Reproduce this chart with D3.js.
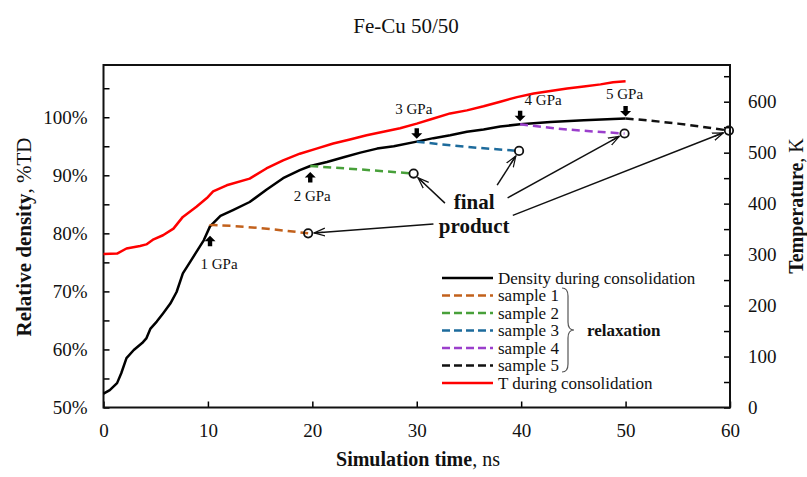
<!DOCTYPE html>
<html>
<head>
<meta charset="utf-8">
<script src="https://cdn.jsdelivr.net/npm/d3@7"></script>
<style>
  body { margin: 0; background: #fff; }
  svg, svg text { font-family: "Liberation Serif", "Times New Roman", serif; }
</style>
</head>
<body>
<div id="chart"></div>
<script>
// Fe-Cu 50/50 consolidation chart

// DATA
// Density during consolidation (ns, %TD)
var densTime = [0, 0.6, 1.3, 1.7, 2.2, 2.9, 3.7, 4.1, 4.5, 5.1, 5.7, 6.4, 7.0, 7.6, 8.3, 8.9, 9.6, 10.2, 11.2, 12.4, 14.0, 15.6, 17.2, 18.8, 19.8, 21.4, 23.0, 24.6, 26.2, 27.8, 30.0, 31.6, 33.2, 34.8, 36.4, 38.0, 39.9, 42.8, 46.0, 48.8, 50.0];
var densValue = [52.4, 53.0, 54.2, 55.9, 58.5, 59.9, 61.1, 61.9, 63.6, 64.8, 66.2, 67.9, 69.9, 73.1, 75.1, 76.8, 78.8, 81.2, 83.0, 84.0, 85.4, 87.5, 89.5, 90.9, 91.6, 92.3, 93.1, 93.9, 94.6, 95.0, 95.8, 96.4, 96.9, 97.5, 97.9, 98.4, 98.8, 99.2, 99.5, 99.7, 99.8];
// Temperature during consolidation (ns, K)
var tempTime = [0, 1.3, 2.2, 3.5, 4.1, 4.8, 5.7, 6.7, 7.6, 8.9, 9.9, 10.5, 11.8, 14.0, 15.6, 17.2, 18.8, 20.4, 22.0, 23.6, 25.2, 26.8, 28.4, 30.0, 31.6, 33.2, 34.8, 36.4, 38.0, 39.6, 41.2, 42.8, 44.4, 46.0, 47.6, 48.8, 50.0];
var tempValue = [301, 302, 312, 317, 320, 330, 338, 351, 374, 394, 411, 424, 436, 449, 469, 485, 498, 508, 518, 526, 534, 541, 548, 557, 567, 577, 583, 591, 600, 609, 616, 621, 626, 630, 634, 638, 640];
// Relaxation samples
var sample1Time = [10.2, 11.0, 15.0, 19.6];
var sample1Value = [81.3, 81.4, 80.9, 80.0];
var sample2Time = [19.8, 24.6, 29.7];
var sample2Value = [91.6, 91.0, 90.3];
var sample3Time = [30.0, 34.8, 39.8];
var sample3Value = [95.8, 94.9, 94.2];
var sample4Time = [39.9, 44.4, 49.9];
var sample4Value = [98.8, 97.9, 97.2];
var sample5Time = [50.0, 55.0, 59.9];
var sample5Value = [99.8, 98.9, 97.7];
// Pressure labels
var pressureLabels = ["1 GPa", "2 GPa", "3 GPa", "4 GPa", "5 GPa"];
// Axis ticks
var xTicks = [0, 10, 20, 30, 40, 50, 60];
var leftTicks = [50, 60, 70, 80, 90, 100];
var rightTicks = [0, 100, 200, 300, 400, 500, 600];

// SETUP
var width = 807, height = 477;
var plotLeft = 103.5, plotRight = 730, plotTop = 65, plotBottom = 407.5;
var serif = "Liberation Serif, Times New Roman, serif";

var svg = d3.select("#chart").append("svg")
    .attr("width", width)
    .attr("height", height)
    .attr("font-family", serif);

var xScale = d3.scaleLinear().domain([0, 60]).range([plotLeft, plotRight]);
var yLeft = d3.scaleLinear().domain([50, 109]).range([plotBottom, plotTop]);
var yRight = d3.scaleLinear().domain([0, 672]).range([plotBottom, plotTop]);

function zip(ts, vs) {
    return ts.map(function(t, i) { return [t, vs[i]]; });
}

var samples = [
    { name: "sample 1", color: "#c2611c", pts: zip(sample1Time, sample1Value) },
    { name: "sample 2", color: "#48a03a", pts: zip(sample2Time, sample2Value) },
    { name: "sample 3", color: "#1d6b9c", pts: zip(sample3Time, sample3Value) },
    { name: "sample 4", color: "#9b3fcc", pts: zip(sample4Time, sample4Value) },
    { name: "sample 5", color: "#111111", pts: zip(sample5Time, sample5Value) }
];

// style axis groups the same way
function styleAxis(g) {
    g.attr("font-family", serif);
    g.select(".domain").remove();
    g.selectAll("line").attr("stroke", "#000").attr("stroke-width", 1.5);
    g.selectAll("text").attr("font-size", 19).attr("fill", "#111");
}

// AXES
// Bottom axis, ticks point inward
svg.append("g")
    .attr("transform", "translate(0," + plotBottom + ")")
    .call(d3.axisBottom(xScale).tickValues(xTicks).tickSizeInner(-6).tickSizeOuter(0).tickPadding(16))
    .call(styleAxis);
// Left axis, ticks every 5%
svg.append("g")
    .attr("transform", "translate(" + plotLeft + ",0)")
    .call(d3.axisLeft(yLeft).tickValues(d3.range(50, 109, 5)).tickSizeInner(-6).tickSizeOuter(0).tickPadding(16)
        .tickFormat(function(d) { return leftTicks.indexOf(d) >= 0 ? d + "%" : ""; }))
    .call(styleAxis);
// Right axis, ticks every 50 K
svg.append("g")
    .attr("transform", "translate(" + plotRight + ",0)")
    .call(d3.axisRight(yRight).tickValues(d3.range(0, 672, 50)).tickSizeInner(-6).tickSizeOuter(0).tickPadding(18)
        .tickFormat(function(d) { return rightTicks.indexOf(d) >= 0 ? d : ""; }))
    .call(styleAxis);

// Plot frame
svg.append("rect")
    .attr("x", plotLeft).attr("y", plotTop)
    .attr("width", plotRight - plotLeft).attr("height", plotBottom - plotTop)
    .attr("fill", "none").attr("stroke", "#111").attr("stroke-width", 2);

// Titles
svg.append("text")
    .attr("x", 406).attr("y", 33)
    .attr("text-anchor", "middle").attr("font-size", 21).attr("fill", "#111")
    .text("Fe-Cu 50/50");

var xTitle = svg.append("text")
    .attr("x", 418).attr("y", 466)
    .attr("text-anchor", "middle").attr("font-size", 20).attr("fill", "#111");
xTitle.append("tspan").attr("font-weight", "bold").text("Simulation time");
xTitle.append("tspan").text(", ns");

var yTitle = svg.append("text")
    .attr("transform", "translate(31,237)rotate(-90)")
    .attr("text-anchor", "middle").attr("font-size", 21).attr("fill", "#111");
yTitle.append("tspan").attr("font-weight", "bold").text("Relative density");
yTitle.append("tspan").text(", %TD");

var rTitle = svg.append("text")
    .attr("transform", "translate(803,206)rotate(-90)")
    .attr("text-anchor", "middle").attr("font-size", 20).attr("fill", "#111");
rTitle.append("tspan").attr("font-weight", "bold").text("Temperature");
rTitle.append("tspan").text(", K");

// CURVES
var densLine = d3.line()
    .x(function(d) { return xScale(d[0]); })
    .y(function(d) { return yLeft(d[1]); });
var tempLine = d3.line()
    .x(function(d) { return xScale(d[0]); })
    .y(function(d) { return yRight(d[1]); });
var smoothLine = d3.line()
    .curve(d3.curveNatural)
    .x(function(d) { return xScale(d[0]); })
    .y(function(d) { return yLeft(d[1]); });

svg.append("path")
    .datum(zip(tempTime, tempValue))
    .attr("d", tempLine)
    .attr("fill", "none").attr("stroke", "#ff0000").attr("stroke-width", 2.5)
    .attr("stroke-linejoin", "round");

svg.append("path")
    .datum(zip(densTime, densValue))
    .attr("d", densLine)
    .attr("fill", "none").attr("stroke", "#000").attr("stroke-width", 2.5)
    .attr("stroke-linejoin", "round");

samples.forEach(function(s) {
    svg.append("path")
        .datum(s.pts)
        .attr("d", smoothLine)
        .attr("fill", "none").attr("stroke", s.color).attr("stroke-width", 2.5)
        .attr("stroke-dasharray", "8,5");
});

// Final product circles
samples.forEach(function(s) {
    var last = s.pts[s.pts.length - 1];
    svg.append("circle")
        .attr("cx", xScale(last[0])).attr("cy", yLeft(last[1])).attr("r", 4.2)
        .attr("fill", "none").attr("stroke", "#111").attr("stroke-width", 1.8);
});

// PRESSURE ARROWS
// block arrow shape pointing up, tip at origin
var blockUp = "M0,0 L5.5,5.5 L2.2,5.5 L2.2,10.5 L-2.2,10.5 L-2.2,5.5 L-5.5,5.5 Z";
var pressureMarks = [
    { dir: "up", dy: 10, lx: 9, ly: 33 },
    { dir: "up", dy: 6, lx: 2, ly: 29 },
    { dir: "down", dy: -3, lx: -3, ly: -25 },
    { dir: "down", dy: -3, lx: 23, ly: -16 },
    { dir: "down", dy: -2, lx: -1, ly: -17 }
];
samples.forEach(function(s, i) {
    var p = s.pts[0];
    var m = pressureMarks[i];
    var px = xScale(p[0]), py = yLeft(p[1]) + m.dy;
    svg.append("path")
        .attr("d", blockUp)
        .attr("transform", "translate(" + px + "," + py + ")" + (m.dir === "down" ? "rotate(180)" : ""))
        .attr("fill", "#000");
    svg.append("text")
        .attr("x", px + m.lx).attr("y", py + m.ly)
        .attr("text-anchor", "middle").attr("font-size", 15).attr("fill", "#111")
        .text(pressureLabels[i]);
});

// FINAL PRODUCT ANNOTATION
svg.append("defs").append("marker")
    .attr("id", "openArrow")
    .attr("viewBox", "0 0 12 10")
    .attr("refX", 11).attr("refY", 5)
    .attr("markerWidth", 12).attr("markerHeight", 10)
    .attr("markerUnits", "userSpaceOnUse")
    .attr("orient", "auto")
    .append("path")
    .attr("d", "M0,1 L11,5 L0,9 M11,5 L2,5")
    .attr("fill", "none").attr("stroke", "#111").attr("stroke-width", 1.2);

// arrow tails in data units (ns, %TD)
var arrowTails = [[31.6, 81.6], [32.7, 85.2], [37.7, 88.3], [38.7, 86.1], [39.2, 83.1]];
samples.forEach(function(s, i) {
    var last = s.pts[s.pts.length - 1];
    var x1 = xScale(arrowTails[i][0]), y1 = yLeft(arrowTails[i][1]);
    var x2 = xScale(last[0]), y2 = yLeft(last[1]);
    var len = Math.sqrt((x2 - x1) * (x2 - x1) + (y2 - y1) * (y2 - y1));
    var k = (len - 6) / len;
    svg.append("line")
        .attr("x1", x1).attr("y1", y1)
        .attr("x2", x1 + (x2 - x1) * k).attr("y2", y1 + (y2 - y1) * k)
        .attr("stroke", "#111").attr("stroke-width", 1.5)
        .attr("marker-end", "url(#openArrow)");
});

svg.append("text")
    .attr("x", xScale(35.5)).attr("y", yLeft(84.2))
    .attr("text-anchor", "middle").attr("font-size", 21).attr("font-weight", "bold").attr("fill", "#111")
    .text("final");
svg.append("text")
    .attr("x", xScale(35.5)).attr("y", yLeft(80.1))
    .attr("text-anchor", "middle").attr("font-size", 21).attr("font-weight", "bold").attr("fill", "#111")
    .text("product");

// LEGEND
var legendItems = [
    { name: "Density during consolidation", color: "#000", dash: null }
].concat(samples.map(function(s) {
    return { name: s.name, color: s.color, dash: "8,4" };
})).concat([
    { name: "T during consolidation", color: "#ff0000", dash: null }
]);

var legend = svg.append("g").attr("transform", "translate(442,278)");
legendItems.forEach(function(item, i) {
    var row = legend.append("g").attr("transform", "translate(0," + (i * 17.5) + ")");
    row.append("line")
        .attr("x1", 0).attr("x2", 51).attr("y1", 0).attr("y2", 0)
        .attr("stroke", item.color).attr("stroke-width", 2.5)
        .attr("stroke-dasharray", item.dash);
    row.append("text")
        .attr("x", 56).attr("y", 5.5)
        .attr("font-size", 17).attr("fill", "#111")
        .text(item.name);
});

// brace grouping the samples
svg.append("path")
    .attr("d", "M562,288 Q568,288 568,296 L568,322 Q568,330 574,330 Q568,330 568,338 L568,364 Q568,372 562,372")
    .attr("fill", "none").attr("stroke", "#555").attr("stroke-width", 1.2);
svg.append("text")
    .attr("x", 587).attr("y", 335.5)
    .attr("font-size", 17).attr("font-weight", "bold").attr("fill", "#111")
    .text("relaxation");
</script>
</body>
</html>
